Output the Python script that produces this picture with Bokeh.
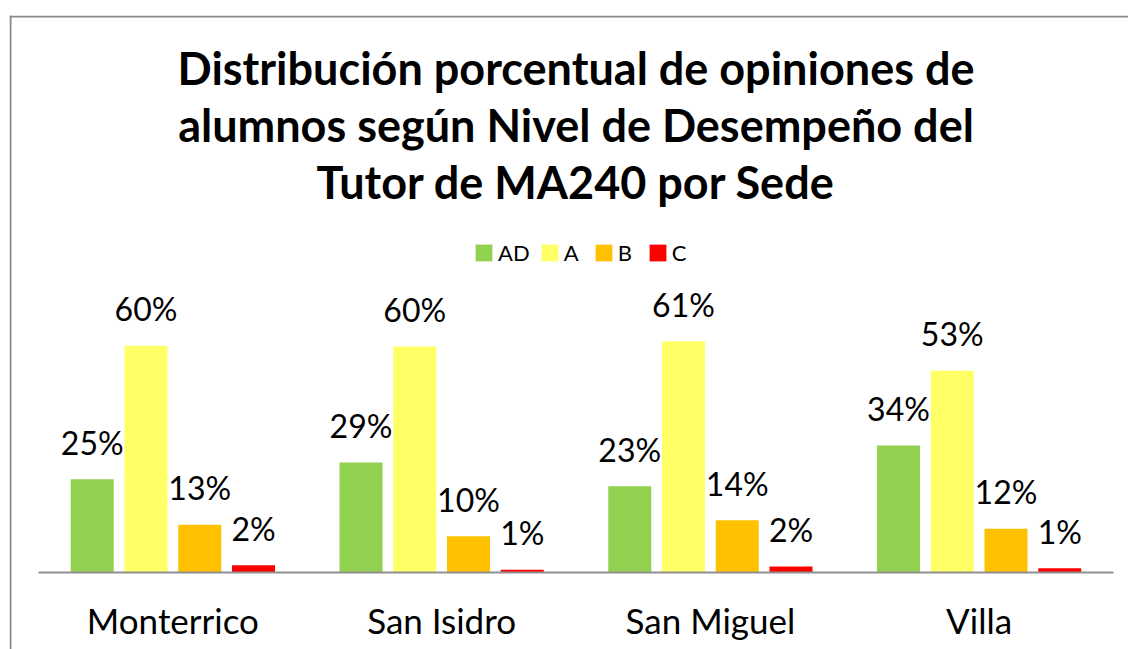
from bokeh.plotting import figure
from bokeh.models import Range1d, Legend, LegendItem, ColumnDataSource, Span
from bokeh.core.properties import value
from bokeh.embed import file_html
from bokeh.resources import INLINE
import numpy as np

# ---- data ----
sedes = ["Monterrico", "San Isidro", "San Miguel", "Villa"]
niveles = ["AD", "A", "B", "C"]
ad_vals = [24.7, 29.1, 22.8, 33.6]
a_vals = [60.0, 59.8, 61.2, 53.4]
b_vals = [12.6, 9.6, 13.8, 11.6]
c_vals = [1.9, 0.7, 1.6, 1.1]
colores = ["#92D050", "#FFFF66", "#FFC000", "#FF0000"]
titulo = ["Distribución porcentual de opiniones de",
          "alumnos según Nivel de Desempeño del",
          "Tutor de MA240 por Sede"]

series = [ad_vals, a_vals, b_vals, c_vals]

FONT = "Lato"
PX_PER = 3.78          # pixels per percent
CAT_W = 268.75         # pixels per category
# frame spans x 9..1128, y 15..649 ; axis baseline at y 572, x 38
x0 = (9 - 38) / CAT_W
x1 = (1128 - 38) / CAT_W
y1 = (572 - 15) / PX_PER
y0 = (572 - 649) / PX_PER

p = figure(width=1128, height=649, output_backend="svg", toolbar_location=None,
           x_range=Range1d(x0, x1), y_range=Range1d(y0, y1),
           x_axis_location=None, y_axis_location=None, title_location=None,
           min_border_left=9, min_border_top=15, min_border_right=0, min_border_bottom=0)
p.grid.visible = False
p.outline_line_color = None
p.background_fill_color = "white"
p.border_fill_color = "white"

# chart-area border (left and top edges visible in the reference crop)
p.add_layout(Span(location=x0 + 1.0 / CAT_W, dimension="height",
                  line_color="#898989", line_width=2))
p.add_layout(Span(location=y1 - 1.0 / PX_PER, dimension="width",
                  line_color="#898989", line_width=2))

idx = np.arange(len(sedes))
offsets = [0.2, 0.4, 0.6, 0.8]
renderers = []
for k, vals in enumerate(series):
    xs = idx + offsets[k]
    src = ColumnDataSource(dict(x=xs, top=vals,
                                lab=[f"{round(v)}%" for v in vals]))
    r = p.vbar(x="x", top="top", bottom=0, width=0.16, source=src,
               fill_color=colores[k], line_color=None)
    renderers.append(r)
    p.text(x="x", y="top", text="lab", source=src, text_align="center",
           text_baseline="alphabetic", y_offset=-37,
           text_font=value(FONT), text_font_size="32px", text_color="black")

# axis line
p.segment(x0=[0], y0=[0], x1=[len(sedes)], y1=[0], line_color="#8f8f8f", line_width=2)

# category labels
p.text(x=idx + 0.5, y=[0] * len(sedes), text=sedes, text_align="center",
       text_baseline="alphabetic", y_offset=47,
       text_font=value(FONT), text_font_size="35px", text_color="black")

# title
p.text(x=[len(sedes) / 2] * 3, y=[y1] * 3, text=titulo, text_align="center",
       text_baseline="alphabetic", y_offset=[52, 109, 166],
       text_font=value(FONT), text_font_size="45px", text_font_style="bold",
       text_color="black")

legend = Legend(items=[LegendItem(label=n, renderers=[r]) for n, r in zip(niveles, renderers)],
                orientation="horizontal", location=(464, 383),
                glyph_width=21, glyph_height=21, label_height=21,
                label_standoff=4, spacing=9, padding=0, margin=0,
                label_text_font=FONT, label_text_font_size="22px",
                label_text_color="black",
                border_line_color=None, background_fill_alpha=0)
p.add_layout(legend)

open("out.html", "w").write(file_html(p, INLINE))
